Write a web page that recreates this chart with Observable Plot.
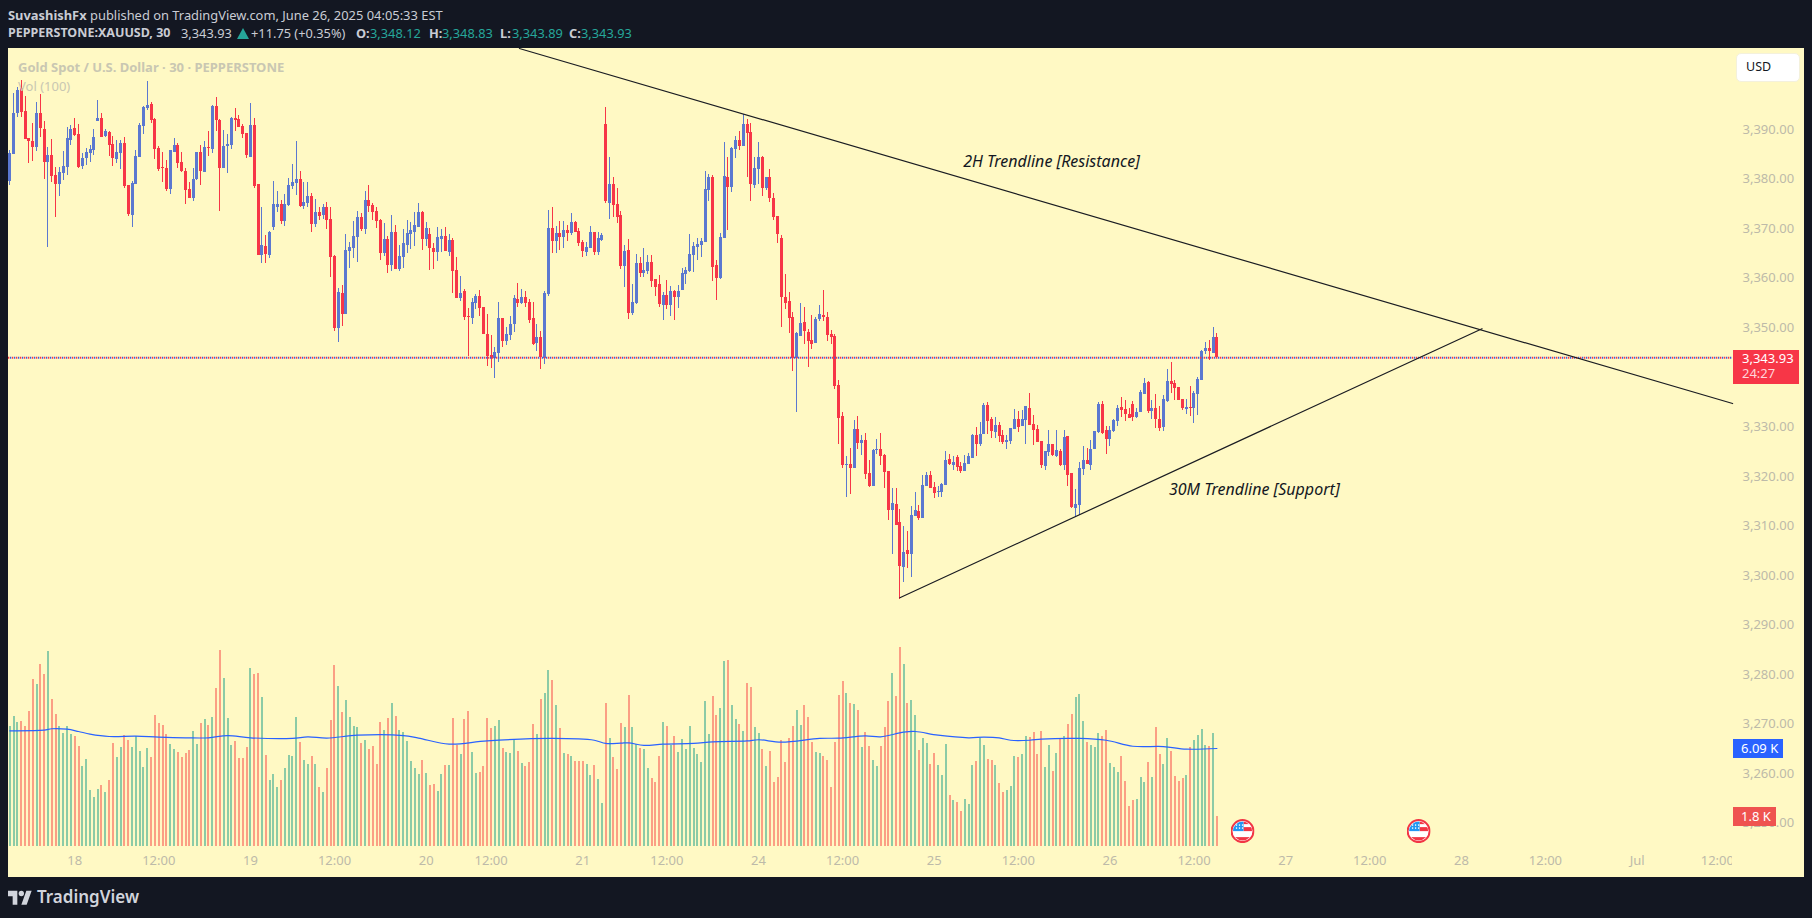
<!DOCTYPE html>
<html><head><meta charset="utf-8">
<script src="https://cdn.jsdelivr.net/npm/d3@7"></script>
<script src="https://cdn.jsdelivr.net/npm/@observablehq/plot@0.6"></script>
<style>
html,body{margin:0;padding:0;width:1812px;height:918px;overflow:hidden;background:#131722;}
body{font-family:"Noto Sans",sans-serif;position:relative;}
#panel{position:absolute;left:8px;top:48px;width:1796px;height:829px;background:#FFF9C4;}
.layer{position:absolute;left:0;top:0;}
.layer svg{display:block;background:transparent;}
.t{position:absolute;white-space:nowrap;line-height:1;}
.h{font-size:12.8px;color:#c9ccd4;}
.b{font-weight:700;}
.g{color:#26a69a;}
.tag{position:absolute;color:#fff;font-size:13px;}
</style></head><body>
<div id="panel"></div>
<div id="vol" class="layer"></div>
<div id="price" class="layer"></div>

<div class="t h" style="left:8px;top:9px;font-size:12.9px"><span class="b">SuvashishFx</span> published on TradingView.com, June 26, 2025 04:05:33 EST</div>
<div class="t h b" style="left:8px;top:27px;font-size:12.5px">PEPPERSTONE:XAUUSD, 30</div>
<div class="t h" style="left:181px;top:27px">3,343.93</div>
<div style="position:absolute;left:237px;top:28px;width:0;height:0;border-left:6px solid transparent;border-right:6px solid transparent;border-bottom:11px solid #26a69a"></div>
<div class="t h" style="left:251px;top:27px">+11.75 (+0.35%)</div>
<div class="t h b" style="left:356px;top:27px">O:</div><div class="t h" style="left:370px;top:27px;color:#26a69a">3,348.12</div>
<div class="t h b" style="left:429px;top:27px">H:</div><div class="t h" style="left:442px;top:27px;color:#26a69a">3,348.83</div>
<div class="t h b" style="left:500px;top:27px">L:</div><div class="t h" style="left:512px;top:27px;color:#26a69a">3,343.89</div>
<div class="t h b" style="left:569px;top:27px">C:</div><div class="t h" style="left:581px;top:27px;color:#26a69a">3,343.93</div>

<div class="t b" style="left:18px;top:61px;font-size:13px;color:#c9c7b2">Gold Spot / U.S. Dollar · 30 · PEPPERSTONE</div>
<div class="t" style="left:18px;top:80px;font-size:13px;color:#c9c7b2">Vol (100)</div>

<div style="position:absolute;left:1736px;top:53px;width:64px;height:29px;background:#fff;border-radius:5px;box-sizing:border-box;border:1px solid #f4f1dc"></div>
<div class="t" style="left:1746px;top:61px;font-size:12.5px;color:#131722">USD</div>

<div class="tag" style="left:1733px;top:350px;width:66px;height:34px;background:#F73647">
  <div class="t" style="left:9px;top:2px">3,343.93</div>
  <div class="t" style="left:9px;top:17px;color:#ffd5da">24:27</div>
</div>
<div class="tag" style="left:1733px;top:739px;width:50px;height:19px;background:#2962FF"><div class="t" style="left:8px;top:3px">6.09 K</div></div>
<div class="tag" style="left:1733px;top:807px;width:43px;height:19px;background:#EF5350"><div class="t" style="left:8px;top:3px">1.8 K</div></div>

<svg style="position:absolute;left:8px;top:890px" width="24" height="15" viewBox="0 0 36 22"><path fill="#d1d4dc" d="M14 22H7V9H0V1h14v21zM28 22h-8l7.5-21h8L28 22z"/><circle fill="#d1d4dc" cx="20" cy="5" r="4"/></svg>
<div class="t" style="left:37px;top:888px;font-size:17px;font-weight:600;color:#d1d4dc">TradingView</div>

<script>
const open = [
3379.6,3385.0,3393.2,3398.2,3393.6,3388.2,3387.6,3386.4,3393.3,3390.0,
3383.4,3384.8,3380.7,3379.0,3381.2,3382.3,3387.8,3390.2,3389.0,3382.5,
3384.2,3385.2,3385.8,3391.6,3392.2,3388.6,3389.4,3387.0,3384.0,3385.2,
3387.2,3378.7,3372.7,3378.9,3384.4,3390.6,3394.2,3395.1,3392.0,3386.2,
3382.3,3382.1,3377.9,3385.4,3386.8,3383.4,3381.5,3377.9,3376.1,3379.9,
3385.4,3381.3,3386.4,3386.0,3394.7,3391.8,3382.1,3386.6,3386.8,3392.2,
3392.0,3390.6,3389.2,3384.4,3390.8,3378.9,3364.6,3366.4,3364.6,3370.2,
3374.3,3374.9,3371.4,3374.7,3378.5,3379.1,3379.9,3374.5,3375.1,3376.5,
3370.8,3373.3,3372.7,3374.3,3371.9,3364.4,3349.9,3356.9,3352.7,3365.4,
3366.0,3368.2,3372.3,3369.9,3375.7,3374.7,3373.5,3371.7,3365.0,3367.8,
3362.6,3369.3,3361.8,3364.2,3366.6,3368.8,3369.3,3370.3,3373.3,3367.8,
3368.8,3366.0,3365.2,3367.8,3368.4,3365.2,3367.6,3361.6,3355.9,3357.3,
3352.3,3351.9,3354.9,3356.3,3354.1,3348.7,3344.4,3343.8,3344.8,3351.9,
3347.3,3348.5,3350.7,3355.7,3354.9,3356.1,3355.1,3351.9,3346.9,3348.1,
3343.8,3356.7,3370.1,3367.4,3369.0,3368.2,3369.7,3369.0,3371.3,3369.5,
3367.2,3365.2,3366.0,3369.3,3365.2,3367.6,3391.1,3375.1,3378.9,3374.9,
3372.7,3362.4,3365.6,3352.9,3354.9,3363.0,3361.0,3361.4,3363.2,3359.8,
3358.8,3354.5,3356.5,3354.5,3357.4,3356.1,3357.6,3360.8,3361.4,3364.6,
3366.2,3366.6,3367.2,3377.7,3380.4,3362.6,3360.0,3368.1,3380.4,3378.3,
3386.0,3387.8,3386.6,3391.1,3389.4,3378.7,3382.0,3384.4,3378.1,3380.4,
3376.1,3372.5,3368.0,3356.1,3355.2,3352.0,3343.7,3348.2,3351.0,3349.0,
3347.4,3346.8,3351.6,3352.4,3352.0,3348.6,3348.2,3338.3,3332.0,3322.1,
3322.3,3321.5,3329.4,3326.6,3327.2,3320.5,3317.9,3325.2,3325.4,3324.2,
3320.9,3313.1,3314.3,3310.6,3301.6,3305.0,3304.2,3311.9,3312.9,3311.4,
3317.9,3320.1,3317.7,3316.7,3316.7,3318.1,3323.4,3322.2,3323.9,3322.0,
3321.0,3322.4,3323.6,3328.3,3326.5,3328.5,3334.3,3331.5,3328.9,3330.3,
3328.3,3326.9,3327.1,3329.5,3331.5,3330.1,3331.3,3333.7,3330.5,3329.5,
3327.1,3322.0,3324.9,3326.5,3324.1,3325.1,3322.2,3328.1,3320.6,3313.6,
3314.2,3321.4,3323.2,3322.2,3325.5,3328.9,3334.5,3329.3,3327.5,3329.1,
3331.1,3333.9,3333.5,3332.5,3334.5,3331.9,3332.9,3336.6,3339.0,3333.1,
3333.7,3331.5,3329.9,3335.2,3339.2,3338.8,3338.0,3335.6,3333.5,3333.9,
3333.7,3336.6,3339.4,3345.2,3345.8,3344.8,3348.12];
const high = [
3385.8,3397.3,3398.4,3399.9,3396.7,3388.2,3391.3,3395.5,3397.1,3391.6,
3386.4,3388.0,3382.3,3382.3,3385.6,3390.4,3390.8,3392.2,3391.0,3385.2,
3386.2,3386.8,3390.0,3395.9,3393.2,3390.0,3389.6,3388.6,3387.8,3387.8,
3388.4,3378.7,3379.5,3385.8,3391.2,3394.7,3399.7,3395.5,3392.2,3386.6,
3385.4,3383.8,3385.8,3388.2,3387.2,3385.4,3382.1,3379.3,3382.1,3385.4,
3386.8,3387.6,3389.6,3394.9,3396.5,3392.0,3389.8,3389.0,3392.4,3394.2,
3392.8,3391.0,3389.2,3395.3,3392.2,3378.9,3374.3,3368.6,3369.4,3379.5,
3377.5,3375.7,3376.9,3380.1,3382.9,3387.6,3381.5,3379.3,3379.3,3377.1,
3375.9,3374.3,3374.9,3375.3,3374.3,3364.6,3357.9,3358.6,3368.8,3367.2,
3371.5,3373.5,3373.1,3377.5,3378.7,3375.1,3374.3,3371.9,3371.1,3368.4,
3372.7,3370.7,3366.6,3369.9,3371.7,3371.3,3373.3,3375.1,3373.5,3371.3,
3370.1,3367.0,3370.3,3369.9,3370.3,3368.8,3368.0,3364.2,3360.4,3357.7,
3353.9,3355.9,3356.7,3357.5,3354.1,3352.7,3348.5,3346.0,3355.1,3351.9,
3350.1,3352.3,3356.5,3359.0,3357.7,3357.3,3355.7,3355.1,3350.7,3349.3,
3357.3,3373.7,3374.3,3370.5,3371.5,3371.5,3370.7,3373.1,3371.5,3370.1,
3367.6,3367.2,3370.5,3369.3,3369.3,3369.0,3394.5,3384.4,3380.4,3378.1,
3373.5,3366.6,3367.8,3358.8,3364.8,3364.2,3366.0,3364.6,3364.6,3359.8,
3360.6,3357.2,3359.6,3358.4,3357.6,3358.6,3362.0,3362.2,3368.9,3367.2,
3368.0,3368.0,3381.6,3381.0,3380.8,3363.6,3369.1,3387.4,3384.4,3386.4,
3388.6,3389.6,3393.1,3392.1,3391.3,3384.4,3387.4,3384.6,3380.4,3382.0,
3377.1,3372.5,3368.7,3360.8,3357.1,3353.0,3349.0,3354.8,3354.0,3349.6,
3352.4,3352.0,3354.4,3357.5,3353.0,3349.4,3348.6,3339.3,3332.8,3324.0,
3325.6,3331.2,3332.0,3328.2,3328.6,3323.2,3325.4,3327.4,3328.6,3324.4,
3320.9,3317.5,3317.5,3313.3,3309.8,3308.8,3313.9,3316.7,3314.1,3320.1,
3320.7,3320.9,3318.7,3317.9,3318.5,3325.0,3324.4,3324.1,3324.3,3322.8,
3324.3,3324.7,3328.5,3329.9,3330.9,3334.7,3335.0,3331.9,3331.9,3330.9,
3329.3,3328.3,3329.7,3333.5,3333.1,3333.3,3334.1,3336.8,3332.3,3330.3,
3327.1,3325.1,3329.3,3326.5,3329.3,3325.5,3329.3,3328.1,3320.6,3317.4,
3322.8,3326.1,3325.7,3327.3,3329.1,3335.0,3335.2,3330.1,3330.1,3331.5,
3334.3,3336.0,3335.4,3333.7,3335.2,3333.7,3337.4,3339.8,3339.2,3335.4,
3336.6,3334.1,3336.4,3341.6,3343.0,3339.4,3338.0,3335.6,3335.6,3338.2,
3337.2,3340.0,3345.4,3347.1,3347.5,3350.1,3348.83];
const low = [
3378.7,3385.0,3392.5,3392.5,3388.0,3383.2,3383.6,3385.6,3388.3,3379.9,
3366.1,3379.3,3372.3,3376.4,3379.7,3380.7,3386.8,3388.6,3382.1,3381.9,
3382.7,3383.4,3384.8,3391.6,3388.4,3388.4,3384.6,3382.5,3383.1,3381.9,
3378.1,3372.5,3370.2,3378.9,3384.4,3389.0,3393.8,3391.2,3384.0,3381.5,
3379.3,3377.5,3376.9,3385.4,3382.1,3381.3,3374.9,3376.1,3375.5,3379.7,
3378.7,3381.3,3384.6,3385.2,3389.6,3373.5,3382.1,3381.1,3386.0,3389.6,
3390.4,3388.2,3384.2,3384.4,3378.1,3364.6,3362.9,3362.9,3364.0,3369.6,
3373.3,3370.8,3370.4,3374.5,3377.9,3376.7,3374.3,3373.9,3374.3,3369.2,
3370.2,3371.6,3371.9,3369.9,3360.2,3349.3,3347.0,3350.3,3352.7,3362.0,
3364.0,3363.2,3369.5,3368.8,3373.3,3371.7,3370.1,3363.6,3364.4,3361.0,
3361.4,3361.8,3361.4,3362.0,3365.0,3365.8,3366.4,3370.3,3365.6,3366.4,
3361.6,3361.8,3363.4,3365.2,3365.4,3364.4,3356.9,3355.9,3355.3,3351.5,
3344.2,3350.7,3353.7,3352.3,3348.7,3342.2,3341.8,3339.8,3343.0,3346.0,
3346.4,3347.5,3349.1,3354.1,3354.7,3354.1,3350.9,3346.4,3345.2,3341.6,
3342.6,3356.3,3365.0,3365.0,3365.6,3366.0,3367.4,3368.6,3369.3,3366.4,
3364.2,3364.4,3366.0,3364.6,3364.6,3367.4,3375.1,3371.9,3372.3,3371.1,
3361.8,3358.2,3351.7,3352.5,3354.7,3360.2,3360.2,3360.8,3358.2,3356.3,
3354.1,3351.5,3353.7,3352.3,3351.5,3353.9,3357.6,3358.8,3361.2,3361.2,
3363.6,3364.2,3367.2,3375.5,3359.4,3355.5,3359.8,3368.1,3369.7,3377.3,
3384.2,3385.8,3386.6,3380.4,3375.5,3378.1,3378.9,3376.5,3377.7,3375.3,
3371.7,3367.0,3350.1,3353.6,3348.8,3341.1,3332.8,3348.2,3346.6,3341.9,
3345.6,3346.8,3351.2,3351.2,3347.2,3346.6,3337.5,3326.4,3321.5,3315.7,
3316.3,3321.5,3325.4,3324.2,3319.3,3317.7,3317.9,3324.4,3322.1,3317.5,
3311.0,3304.2,3310.0,3295.2,3298.5,3301.4,3299.5,3311.9,3311.0,3311.4,
3317.9,3317.5,3315.5,3315.7,3315.7,3318.1,3322.1,3321.2,3321.0,3320.6,
3321.0,3322.4,3323.6,3324.1,3326.1,3328.5,3328.5,3327.7,3327.7,3326.9,
3326.5,3325.5,3326.5,3329.5,3328.9,3330.1,3326.5,3330.3,3326.3,3326.9,
3321.6,3321.2,3324.1,3324.1,3323.9,3322.0,3321.2,3318.0,3313.6,3311.7,
3312.1,3320.2,3322.4,3321.2,3325.5,3328.7,3328.5,3324.5,3326.1,3328.9,
3330.1,3331.9,3331.1,3331.7,3331.1,3331.7,3332.9,3336.6,3332.7,3331.5,
3329.7,3329.1,3329.1,3335.0,3336.8,3335.4,3335.4,3333.3,3332.5,3332.1,
3330.7,3332.3,3339.4,3344.6,3343.4,3344.8,3343.89];
const close = [
3385.1,3393.3,3397.9,3393.4,3388.0,3387.6,3386.4,3393.3,3390.3,3383.4,
3384.8,3380.5,3379.0,3381.3,3382.5,3388.2,3390.0,3388.8,3382.3,3384.2,
3385.4,3386.0,3388.4,3392.2,3388.4,3389.6,3386.8,3384.2,3385.4,3387.2,
3378.5,3372.9,3379.1,3384.6,3390.8,3394.5,3394.9,3391.8,3386.0,3381.9,
3382.1,3377.9,3385.8,3386.8,3383.1,3381.5,3377.7,3376.1,3379.9,3385.4,
3381.5,3386.4,3386.2,3394.7,3391.8,3382.1,3386.6,3387.0,3392.2,3391.8,
3390.4,3389.0,3384.8,3390.8,3378.5,3364.6,3366.6,3364.8,3369.2,3374.9,
3374.9,3371.4,3374.9,3378.7,3379.3,3379.9,3374.5,3375.3,3376.5,3370.8,
3373.3,3372.5,3374.3,3371.7,3364.2,3349.9,3357.1,3352.7,3365.6,3366.2,
3368.4,3372.3,3369.9,3375.7,3374.5,3373.3,3371.5,3365.0,3367.8,3362.6,
3369.3,3361.8,3364.4,3367.0,3369.0,3369.7,3370.7,3373.3,3367.8,3370.1,
3366.0,3365.2,3368.2,3368.4,3365.4,3367.6,3361.4,3355.9,3356.9,3352.1,
3352.1,3355.1,3356.3,3353.9,3348.7,3344.2,3343.8,3345.0,3351.9,3347.3,
3348.7,3350.7,3355.9,3354.9,3356.1,3354.9,3351.5,3346.6,3348.1,3344.0,
3356.9,3370.1,3367.4,3369.0,3368.2,3369.7,3369.0,3371.3,3369.3,3367.0,
3365.4,3366.2,3369.3,3365.2,3368.0,3368.6,3375.5,3378.9,3374.7,3372.3,
3362.4,3365.4,3352.9,3355.1,3363.0,3361.0,3361.6,3363.2,3359.4,3358.2,
3354.7,3356.5,3354.5,3357.4,3356.1,3357.4,3361.0,3361.6,3364.8,3366.4,
3366.8,3367.4,3377.9,3380.4,3362.2,3360.0,3368.3,3380.6,3378.3,3386.2,
3387.8,3386.6,3391.1,3389.2,3378.9,3382.2,3384.4,3378.1,3380.4,3376.1,
3372.3,3368.9,3356.1,3354.8,3351.8,3343.7,3348.8,3350.8,3349.2,3347.2,
3346.6,3351.6,3352.6,3352.0,3348.4,3348.0,3338.1,3331.6,3322.1,3322.3,
3321.5,3329.4,3326.6,3327.2,3320.3,3317.9,3325.2,3325.4,3324.0,3320.7,
3313.1,3314.5,3310.0,3301.8,3304.6,3304.2,3312.1,3313.1,3311.4,3318.1,
3320.1,3317.5,3316.5,3316.9,3318.3,3323.2,3322.3,3322.8,3321.8,3321.0,
3322.6,3324.1,3328.3,3326.5,3328.5,3334.3,3331.1,3329.1,3330.3,3328.1,
3326.9,3327.3,3329.7,3331.5,3329.9,3331.5,3334.1,3330.3,3329.3,3326.9,
3322.2,3325.1,3326.5,3324.3,3325.3,3322.2,3327.9,3320.2,3313.8,3314.4,
3321.6,3323.2,3322.4,3325.5,3329.1,3334.5,3328.7,3327.5,3329.3,3331.3,
3333.7,3333.3,3332.5,3331.7,3331.9,3332.9,3337.0,3338.8,3333.1,3333.7,
3331.5,3329.7,3335.6,3339.2,3338.6,3337.8,3335.4,3333.7,3333.9,3333.7,
3336.8,3339.6,3345.2,3345.8,3345.2,3348.1,3343.93];
const volumeK = [
7.39,8.00,7.63,7.70,7.39,8.31,10.29,9.98,11.22,10.60,
12.02,9.05,8.13,7.39,6.96,7.39,6.89,6.77,6.15,4.92,
5.35,3.44,3.00,3.50,3.75,3.31,4.05,6.34,5.47,6.09,
6.83,6.52,6.09,6.77,5.84,4.86,6.03,5.47,8.07,7.57,
7.45,6.89,6.28,5.97,5.78,5.47,5.72,5.91,7.08,6.28,
7.57,7.82,7.45,7.94,9.73,12.08,10.35,7.88,6.22,6.46,
5.41,5.41,6.09,10.97,10.60,10.66,9.18,5.60,4.05,4.42,
3.62,4.05,4.80,5.60,5.54,7.94,6.40,5.29,5.04,5.54,
5.04,3.62,3.31,4.80,7.76,11.15,9.86,8.25,8.99,7.94,
7.39,7.33,6.34,6.52,5.97,6.15,5.04,7.63,7.14,7.88,
8.81,8.00,7.14,7.02,6.46,5.23,4.80,4.42,5.29,4.49,
3.75,3.81,3.38,4.42,4.98,4.98,7.88,6.22,5.66,7.82,
8.31,5.78,4.49,4.55,4.92,7.88,7.27,7.39,7.76,6.03,
5.78,5.72,6.59,5.84,5.10,4.92,5.17,7.51,6.89,9.05,
9.43,10.85,10.23,8.68,7.27,5.72,5.66,5.54,5.23,5.23,
5.23,5.04,4.36,4.98,4.12,2.63,8.81,6.65,5.47,4.73,
7.57,7.33,9.30,7.33,6.28,6.03,5.97,4.80,4.18,3.93,
5.54,7.63,7.39,6.22,6.77,5.78,6.59,5.97,7.39,6.03,
5.66,5.17,8.93,6.89,9.24,8.07,8.50,11.40,11.46,8.68,
7.82,7.51,7.08,10.04,9.80,7.33,6.96,5.97,4.92,5.84,
3.93,4.24,6.52,5.17,6.65,7.39,8.38,7.45,8.68,7.94,
6.40,5.78,5.72,5.54,5.29,3.62,6.40,9.30,10.17,9.43,
8.81,8.75,8.38,6.09,7.02,6.15,5.29,4.92,6.15,7.33,
8.93,10.66,9.24,12.27,11.22,8.81,8.99,8.07,5.91,6.65,
6.34,5.04,5.72,4.98,4.36,6.28,3.13,2.82,2.70,2.14,
2.88,2.57,4.98,5.23,6.65,6.22,5.35,5.29,4.98,3.87,
3.31,3.44,3.68,5.54,5.47,5.66,6.77,6.71,7.02,5.66,
7.08,4.86,6.22,4.61,5.72,6.65,6.77,7.51,8.13,9.18,
9.36,7.70,6.40,6.22,6.09,6.96,6.77,7.14,5.10,4.86,
4.55,5.54,3.99,2.45,2.82,2.88,4.24,3.93,5.17,4.24,
7.33,5.66,5.04,6.65,5.84,4.30,3.99,4.18,4.36,6.09,
6.52,6.83,7.20,6.22,6.15,6.96,1.83];
const maBar = [1,10,12,16,19,22,27,34,40,47,53,58,64,75,79,84,92,104,108,116,126,143,154,157,161,163,167,172,180,185,194,197,203,213,218,225,229,235,238,244,252,256,260,263,268,271,281,288,295,303,309,317];
const maValue = [7.14,7.18,7.27,7.24,7.10,6.94,6.79,6.81,6.75,6.71,6.71,6.85,6.71,6.67,6.77,6.69,6.87,6.85,6.69,6.32,6.52,6.67,6.56,6.36,6.38,6.40,6.24,6.32,6.36,6.46,6.52,6.59,6.44,6.67,6.69,6.83,6.77,7.06,7.10,6.87,6.71,6.75,6.71,6.56,6.56,6.63,6.67,6.56,6.19,6.17,6.01,6.05];
const priceTicks = [3250,3260,3270,3280,3290,3300,3310,3320,3330,3350,3360,3370,3380,3390];
const timeTickBars = [18,40,64,86,110,127,151,173,197,219,243,265,289,311,335,357,381,403,427,448];
const timeTickLabels = ["18","12:00","19","12:00","20","12:00","21","12:00","24","12:00","25","12:00","26","12:00","27","12:00","28","12:00","Jul","12:00"];
const lastPrice = 3343.93;
const resistanceBar = [134.4,452], resistancePrice = [3406.35,3334.7];
const supportBar = [234,386.4], supportPrice = [3295.5,3349.8];
const eventBars = [323.7,369.8], eventPrice = 3248.4;

const UP="#5B78D0", DOWN="#F73647", VUP="#8CCBA6", VDOWN="#FB9F84", TICK="#bdbaa9";
const FONT='"Noto Sans",sans-serif';
const barDomain=[0.66,451.97];
const candles=open.map((o,k)=>({i:k+1,o,h:high[k],l:low[k],c:close[k],v:volumeK[k],up:close[k]>=o}));
const ma=maBar.map((i,k)=>({i,v:maValue[k]}));
const base={width:1812,height:918,marginLeft:8,marginRight:80,marginTop:48,style:{background:"transparent",fontFamily:FONT,fontSize:"13px",overflow:"visible"}};

document.getElementById("vol").append(Plot.plot({...base,marginBottom:72,
  x:{domain:barDomain,axis:null},
  y:{domain:[0,49.26],axis:null},
  marks:[
    Plot.ruleX(candles,{x:"i",y1:0,y2:"v",stroke:d=>d.up?VUP:VDOWN,strokeWidth:2,shapeRendering:"crispEdges"}),
    Plot.line(ma,{x:"i",y:"v",stroke:"#2962FF",strokeWidth:1.2,curve:"catmull-rom"})
  ]}));

const flagSvg='<svg xmlns="http://www.w3.org/2000/svg" width="24" height="24" viewBox="0 0 24 24"><defs><clipPath id="c"><circle cx="12" cy="12" r="9.5"/></clipPath></defs><circle cx="12" cy="12" r="11" fill="#fff" stroke="#F23645" stroke-width="2"/><g clip-path="url(#c)"><rect x="2" y="2" width="20" height="20" fill="#fff"/><rect x="13" y="2" width="9" height="3" fill="#F23645"/><rect x="13" y="8" width="9" height="4" fill="#F23645"/><rect x="2" y="18" width="20" height="4" fill="#F23645"/><rect x="2" y="2" width="11" height="10" fill="#2196F3"/></g><g fill="#fff"><circle cx="6" cy="6" r=".8"/><circle cx="9" cy="6" r=".8"/><circle cx="12" cy="6" r=".8"/><circle cx="6" cy="9" r=".8"/><circle cx="9" cy="9" r=".8"/><circle cx="12" cy="9" r=".8"/></g></svg>';
const flagUri="data:image/svg+xml,"+encodeURIComponent(flagSvg);

document.getElementById("price").append(Plot.plot({...base,marginBottom:41,
  x:{domain:barDomain,axis:null},
  y:{domain:[3239.04,3406.35],axis:null},
  marks:[
    Plot.axisY({ticks:priceTicks,anchor:"right",tickSize:0,tickPadding:10,label:null,color:TICK,tickFormat:d3.format(",.2f"),fontSize:13}),
    Plot.axisX({ticks:timeTickBars,anchor:"bottom",tickSize:0,tickPadding:0,label:null,color:TICK,dy:-22,clip:true,fontSize:13,
      tickFormat:b=>timeTickLabels[timeTickBars.indexOf(b)]}),
    Plot.ruleX(candles,{x:"i",y1:"l",y2:"h",stroke:d=>d.up?UP:DOWN,strokeWidth:1,shapeRendering:"crispEdges"}),
    Plot.ruleX(candles,{x:"i",y1:"o",y2:"c",stroke:d=>d.up?UP:DOWN,strokeWidth:3,shapeRendering:"crispEdges"}),
    Plot.ruleY([lastPrice],{stroke:DOWN,strokeWidth:2,strokeDasharray:"1.3,2.7"}),
    Plot.ruleY([lastPrice],{stroke:"#3F5BE0",strokeWidth:2,strokeDasharray:"1.3,2.7",strokeDashoffset:2}),
    Plot.line(resistanceBar.map((b,k)=>({b,p:resistancePrice[k]})),{x:"b",y:"p",stroke:"#1a1c22",strokeWidth:1.2}),
    Plot.line(supportBar.map((b,k)=>({b,p:supportPrice[k]})),{x:"b",y:"p",stroke:"#1a1c22",strokeWidth:1.2}),
    Plot.text(["2H Trendline [Resistance]"],{x:273.7,y:3383.5,text:d=>d,fontStyle:"italic",fontSize:16,fill:"#131722"}),
    Plot.text(["30M Trendline [Support]"],{x:326.8,y:3317.3,text:d=>d,fontStyle:"italic",fontSize:16,fill:"#131722"}),
    Plot.image(eventBars,{x:d=>d,y:eventPrice,src:flagUri,width:24,height:24})
  ]}));
</script>
</body></html>
